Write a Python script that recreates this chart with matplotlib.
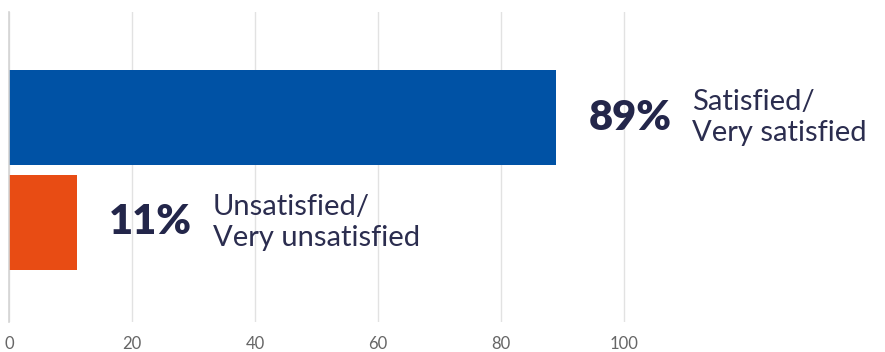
import matplotlib.pyplot as plt

# data
categories = ['Satisfied/\nVery satisfied', 'Unsatisfied/\nVery unsatisfied']
values = [89, 11]
colors = ['#0052a5', '#e84c14']
ticks = [0, 20, 40, 60, 80, 100]

plt.rcParams['font.family'] = ['Lato', 'DejaVu Sans']

fig = plt.figure(figsize=(8.85, 3.52), dpi=100)
ax = fig.add_axes([9 / 885, 30 / 352, 876 / 885, 310 / 352])

pos = list(range(len(values)))
ax.barh(pos, values, height=0.905, color=colors, zorder=3)

ax.set_xlim(0, 876 / 6.15)
ax.set_ylim(1.948, -1.005)
ax.set_xticks(ticks)
ax.set_xticklabels([str(t) for t in ticks], color='#666666', fontsize=12)
ax.tick_params(axis='x', length=0, pad=10)
ax.set_yticks([])
ax.grid(axis='x', color='#e2e2e2', linewidth=1, zorder=0)
for s in ['top', 'right', 'bottom']:
    ax.spines[s].set_visible(False)
ax.spines['left'].set_color('#d4d4d4')
ax.spines['left'].set_linewidth(1.2)
ax.spines['left'].set_zorder(4)

for p, v, lab in zip(pos, values, categories):
    ax.annotate(f'{v}%', (v, p), xytext=(32 * 0.72, 0), textcoords='offset points',
                ha='left', va='center', fontsize=30, fontweight='heavy', color='#23264a')
    ax.annotate(lab, (v, p), xytext=(136 * 0.72, 0), textcoords='offset points',
                ha='left', va='center', fontsize=21, color='#2b2d4f', linespacing=1.25)

fig.savefig('out.png', dpi=100)
